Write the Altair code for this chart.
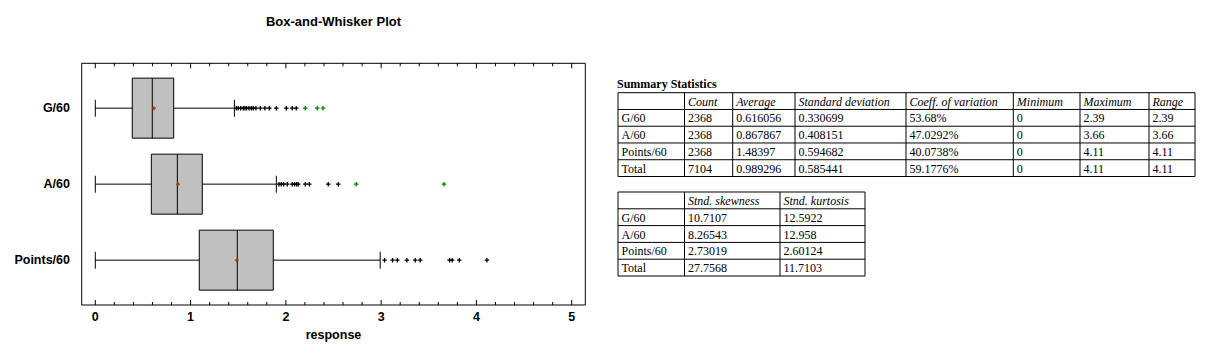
import altair as alt
import pandas as pd

# ---------------- data ----------------
categories = ["G/60", "A/60", "Points/60"]
whisker_low = [0.0, 0.0, 0.0]
box_q1 = [0.388, 0.588, 1.091]
box_median = [0.598, 0.861, 1.490]
box_q3 = [0.823, 1.123, 1.868]
whisker_high = [1.46, 1.90, 2.99]
box_mean = [0.616056, 0.867867, 1.48397]

outliers_g = [1.48, 1.50, 1.526, 1.553, 1.571, 1.588, 1.613, 1.637, 1.658, 1.686,
              1.732, 1.78, 1.826, 1.90, 2.005, 2.067, 2.109]
far_g = [2.204, 2.33, 2.39]
outliers_a = [1.928, 1.952, 1.977, 2.015, 2.067, 2.092, 2.113, 2.13, 2.204, 2.246,
              2.445, 2.55]
far_a = [2.739, 3.66]
outliers_p = [3.036, 3.12, 3.17, 3.27, 3.358, 3.41, 3.718, 3.746, 3.82, 4.11]
far_p = []

x_ticks = [0, 1, 2, 3, 4, 5]
x_minor_ticks = [0.2, 0.4, 0.6, 0.8, 1.2, 1.4, 1.6, 1.8, 2.2, 2.4, 2.6, 2.8,
                 3.2, 3.4, 3.6, 3.8, 4.2, 4.4, 4.6, 4.8]

chart_title = "Box-and-Whisker Plot"
x_title = "response"

table_title = "Summary Statistics"
t1_headers = ["", "Count", "Average", "Standard deviation", "Coeff. of variation",
              "Minimum", "Maximum", "Range"]
row_labels = ["G/60", "A/60", "Points/60", "Total"]
counts = ["2368", "2368", "2368", "7104"]
averages = ["0.616056", "0.867867", "1.48397", "0.989296"]
std_devs = ["0.330699", "0.408151", "0.594682", "0.585441"]
coeff_var = ["53.68%", "47.0292%", "40.0738%", "59.1776%"]
minimums = ["0", "0", "0", "0"]
maximums = ["2.39", "3.66", "4.11", "4.11"]
ranges = ["2.39", "3.66", "4.11", "4.11"]

t2_headers = ["", "Stnd. skewness", "Stnd. kurtosis"]
skewness = ["10.7107", "8.26543", "2.73019", "27.7568"]
kurtosis = ["12.5922", "12.958", "2.60124", "11.7103"]

# ---------------- layout (pixels) ----------------
W, H = 1227, 364
FR_L, FR_R, FR_T, FR_B = 81.7, 585.3, 63.3, 305.0
X_RANGE = [95.3, 571.7]
T1_EDGES = [618, 684.5, 732.7, 795, 906, 1013.3, 1080, 1149, 1195]
T1_Y = [92.7, 176.5]
T2_EDGES = [618, 684.5, 780, 865]
T2_Y = [192, 276]

SANS = "Liberation Sans"
SERIF = "Liberation Serif"
PLUS = "M-1,0L1,0M0,-1L0,1"

xs = alt.Scale(domain=[0, 5], range=X_RANGE, nice=False, zero=False)
ys = alt.Scale(type="point", domain=categories, range=[FR_T, FR_B], padding=0.59)

one = pd.DataFrame({"a": [0]})

box_df = pd.DataFrame({
    "cat": categories, "low": whisker_low, "q1": box_q1, "med": box_median,
    "q3": box_q3, "high": whisker_high, "mean": box_mean,
})

out_rows = []
for cat, near, far in zip(categories, [outliers_g, outliers_a, outliers_p],
                          [far_g, far_a, far_p]):
    out_rows += [{"cat": cat, "v": v, "kind": "near"} for v in near]
    out_rows += [{"cat": cat, "v": v, "kind": "far"} for v in far]
out_df = pd.DataFrame(out_rows)

X = lambda f: alt.X(f, scale=xs, axis=None)
Y = lambda: alt.Y("cat:N", scale=ys, axis=None)

layers = []

# frame
layers.append(alt.Chart(one).mark_rect(filled=False, stroke="black", strokeWidth=1).encode(
    x=alt.value(FR_L), x2=alt.value(FR_R), y=alt.value(FR_T), y2=alt.value(FR_B)))

# ticks (inside, top and bottom)
maj = pd.DataFrame({"t": x_ticks})
mino = pd.DataFrame({"t": x_minor_ticks})
for df, ln in [(maj, 5), (mino, 3)]:
    layers.append(alt.Chart(df).mark_rule(color="black", strokeWidth=1).encode(
        x=X("t:Q"), y=alt.value(FR_B), y2=alt.value(FR_B - ln)))
    layers.append(alt.Chart(df).mark_rule(color="black", strokeWidth=1).encode(
        x=X("t:Q"), y=alt.value(FR_T), y2=alt.value(FR_T + ln)))

# tick labels
layers.append(alt.Chart(maj).mark_text(font=SANS, fontSize=12.5, fontWeight="bold",
                                      baseline="middle", align="center", color="black").encode(
    x=X("t:Q"), y=alt.value(317), text="t:N"))

# axis title & chart title
layers.append(alt.Chart(pd.DataFrame({"s": [x_title]})).mark_text(
    font=SANS, fontSize=12.5, fontWeight="bold", baseline="middle", color="black").encode(
    x=alt.value((FR_L + FR_R) / 2), y=alt.value(335), text="s:N"))
layers.append(alt.Chart(pd.DataFrame({"s": [chart_title]})).mark_text(
    font=SANS, fontSize=13, fontWeight="bold", baseline="middle", color="black").encode(
    x=alt.value((FR_L + FR_R) / 2), y=alt.value(21.5), text="s:N"))

# category labels
layers.append(alt.Chart(box_df).mark_text(font=SANS, fontSize=12.5, fontWeight="bold",
                                         align="right", baseline="middle", color="black").encode(
    x=alt.value(70), y=Y(), text="cat:N"))

# whiskers
layers.append(alt.Chart(box_df).mark_rule(color="black", strokeWidth=1).encode(
    x=X("low:Q"), x2="high:Q", y=Y()))
for f in ["low:Q", "high:Q"]:
    layers.append(alt.Chart(box_df).mark_tick(orient="vertical", size=17, thickness=1,
                                             color="black", opacity=1).encode(x=X(f), y=Y()))

# boxes
layers.append(alt.Chart(box_df).mark_bar(size=60, fill="#C0C0C0", stroke="black",
                                        strokeWidth=1, opacity=1).encode(
    x=X("q1:Q"), x2="q3:Q", y=Y()))
layers.append(alt.Chart(box_df).mark_tick(orient="vertical", size=60, thickness=1,
                                         color="black", opacity=1).encode(x=X("med:Q"), y=Y()))

# mean markers
layers.append(alt.Chart(box_df).mark_point(shape=PLUS, size=16, filled=False,
                                          stroke="#A04000", strokeWidth=1.3, opacity=1).encode(
    x=X("mean:Q"), y=Y()))

# outliers
layers.append(alt.Chart(out_df).mark_point(shape=PLUS, size=20, filled=False,
                                          strokeWidth=1.3, opacity=1).encode(
    x=X("v:Q"), y=Y(),
    stroke=alt.Stroke("kind:N", scale=alt.Scale(domain=["near", "far"],
                                                range=["black", "#008000"]), legend=None)))


# ---------------- tables ----------------
def table_layers(headers, columns, edges, yr):
    recs = []
    for ci, h in enumerate(headers):
        recs.append({"text": h, "x": edges[ci], "row": 0.5, "kind": "head"})
    for ri, lab in enumerate(row_labels):
        recs.append({"text": lab, "x": edges[0], "row": ri + 1.5, "kind": "body"})
        for ci, col in enumerate(columns):
            recs.append({"text": col[ri], "x": edges[ci + 1], "row": ri + 1.5, "kind": "body"})
    cells = pd.DataFrame(recs)
    tys = alt.Scale(domain=[0, 5], range=yr, nice=False, zero=False)
    base = alt.Chart(cells).encode(
        x=alt.X("x:Q", scale=None, axis=None),
        y=alt.Y("row:Q", scale=tys, axis=None),
        text="text:N")
    out = []
    out.append(base.transform_filter(alt.datum.kind == "head").mark_text(
        align="left", baseline="middle", dx=3.5, dy=0.5, font=SERIF, fontSize=12,
        fontStyle="italic", color="black"))
    out.append(base.transform_filter(alt.datum.kind == "body").mark_text(
        align="left", baseline="middle", dx=3.5, dy=0.5, font=SERIF, fontSize=12,
        color="black"))
    out.append(alt.Chart(pd.DataFrame({"row": [0, 1, 2, 3, 4, 5]})).mark_rule(
        color="black", strokeWidth=1).encode(
        x=alt.value(edges[0]), x2=alt.value(edges[-1]),
        y=alt.Y("row:Q", scale=tys, axis=None)))
    out.append(alt.Chart(pd.DataFrame({"x": edges})).mark_rule(
        color="black", strokeWidth=1).encode(
        x=alt.X("x:Q", scale=None, axis=None), y=alt.value(yr[0]), y2=alt.value(yr[1])))
    return out


layers.append(alt.Chart(pd.DataFrame({"s": [table_title]})).mark_text(
    font=SERIF, fontSize=12, fontWeight="bold", align="left", baseline="alphabetic",
    color="black").encode(x=alt.value(617), y=alt.value(88), text="s:N"))
layers += table_layers(t1_headers, [counts, averages, std_devs, coeff_var, minimums,
                                    maximums, ranges], T1_EDGES, T1_Y)
layers += table_layers(t2_headers, [skewness, kurtosis], T2_EDGES, T2_Y)

chart = alt.layer(*layers).resolve_scale(
    x="independent", y="independent", stroke="independent"
).properties(
    width=W, height=H, autosize=alt.AutoSizeParams(type="none"), padding=0,
    background="white"
).configure_view(stroke=None)

chart.save("out.html", embed_options={"renderer": "svg", "actions": False})
